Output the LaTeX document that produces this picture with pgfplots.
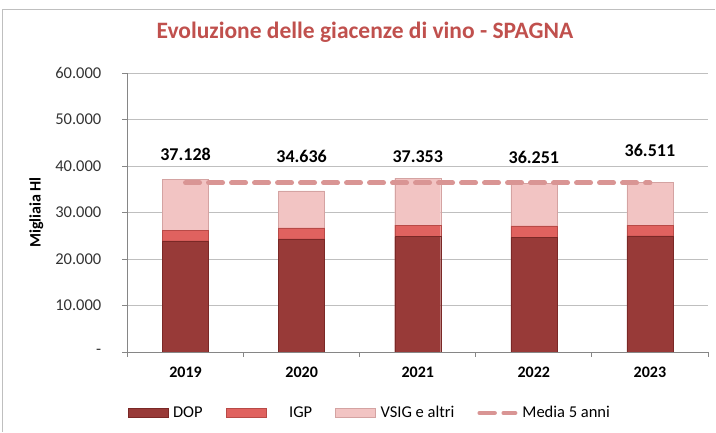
\documentclass[border=0pt]{standalone}
\usepackage{fontspec}
\setmainfont{Carlito}
\usepackage{pgfplots}
\pgfplotsset{compat=1.18}

\definecolor{dopc}{HTML}{983A38}
\definecolor{dope}{HTML}{7A2826}
\definecolor{igpc}{HTML}{E0625F}
\definecolor{igpe}{HTML}{B84A47}
\definecolor{vsigc}{HTML}{F2C4C3}
\definecolor{vsige}{HTML}{D4A3A2}
\definecolor{meanc}{HTML}{D99594}
\definecolor{titlec}{HTML}{C0504D}
\definecolor{gridc}{HTML}{BFBFBF}
\definecolor{axc}{HTML}{868686}

\pgfplotsset{
  base/.style={
    scale only axis, width=580.5pt, height=279pt,
    xmin=-0.5, xmax=4.5, ymin=0, ymax=60000,
    at={(0pt,0pt)}, anchor=south west,
  },
  barlegend/.style={legend image code/.code={\draw[##1] (0pt,-4.5pt) rectangle (40pt,4.5pt);}},
}

\begin{document}
\begin{tikzpicture}
% bounding box and outer frame
\path (-127.5pt,-80pt) rectangle (588.5pt,352pt);
\draw[gridc, line width=1pt] (-125pt,-80pt) -- (-125pt,342pt) -- (587pt,342pt);

\begin{axis}[base,
    ybar stacked, bar width=46pt,
    axis x line*=bottom, axis y line*=left,
    axis line style={axc, line width=0.8pt},
    tick align=outside,
    scaled y ticks=false,
    ytick={0,10000,20000,30000,40000,50000,60000},
    yticklabels={-,10.000,20.000,30.000,40.000,50.000,60.000},
    ymajorgrids, grid style={gridc, line width=0.8pt},
    ytick style={axc, line width=0.8pt}, major tick length=5pt,
    yticklabel style={font=\fontsize{16.5}{18}\selectfont, text=black!80, inner sep=0pt, xshift=-21pt},
    xtick={0,1,2,3,4},
    xticklabels={2019,2020,2021,2022,2023},
    xtick style={draw=none},
    xticklabel style={font=\fontsize{16}{18}\bfseries\selectfont, text=black, inner sep=0pt, yshift=-9.5pt},
    extra x ticks={-0.5,0.5,1.5,2.5,3.5,4.5},
    extra x tick labels={},
    extra x tick style={xtick style={axc, line width=0.8pt, draw=axc}, grid=none},
    ylabel={Migliaia Hl},
    every axis y label/.style={at={(axis description cs:-0.157,0.5)}, rotate=90, anchor=center,
      font=\fontsize{16}{18}\bfseries\selectfont},
    title={Evoluzione delle giacenze di vino - SPAGNA},
    title style={at={(axis description cs:0.409,1)}, anchor=center, yshift=35pt,
      font=\fontsize{23.5}{26}\bfseries\selectfont, text=titlec},
    legend columns=4,
    legend style={at={(axis description cs:0,0)}, anchor=west, yshift=-61pt,
      draw=none, inner sep=0pt, font=\fontsize{16.5}{18}\selectfont,
      /tikz/every even column/.append style={column sep=21pt}},
    legend cell align=left,
]
\addplot[fill=dopc, draw=dope, barlegend] coordinates {
  (0,23900) (1,24300) (2,24800) (3,24580) (4,24950)};
\addlegendentry{\hspace{3pt}DOP}
\addplot[fill=igpc, draw=igpe, barlegend] coordinates {
  (0,2200) (1,2370) (2,2510) (3,2520) (4,2360)};
\addlegendentry{\hspace{21pt}IGP}
\addplot[fill=vsigc, draw=vsige, barlegend] coordinates {
  (0,11028) (1,7966) (2,10043) (3,9151) (4,9201)};
\addlegendentry{\hspace{3pt}VSIG e altri}
\addlegendimage{legend image code/.code={\draw[meanc, line width=4.5pt, line cap=round, dash pattern=on 15pt off 9pt] (2.5pt,0pt) -- (38pt,0pt);}}
\addlegendentry{\hspace{3pt}Media 5 anni}
\end{axis}

\begin{axis}[base, hide axis]
\addplot[meanc, line width=5pt, line cap=round, dash pattern=on 14pt off 9pt] coordinates {
  (0,36376) (4,36376)};
\addplot[draw=none, mark=none, nodes near coords, point meta=explicit symbolic,
  nodes near coords style={anchor=center, font=\fontsize{18}{20}\bfseries\selectfont, text=black}]
  coordinates {
  (0,42400) [37.128]
  (1,42100) [34.636]
  (2,42100) [37.353]
  (3,41900) [36.251]
  (4,43400) [36.511]};
\end{axis}
\end{tikzpicture}
\end{document}
